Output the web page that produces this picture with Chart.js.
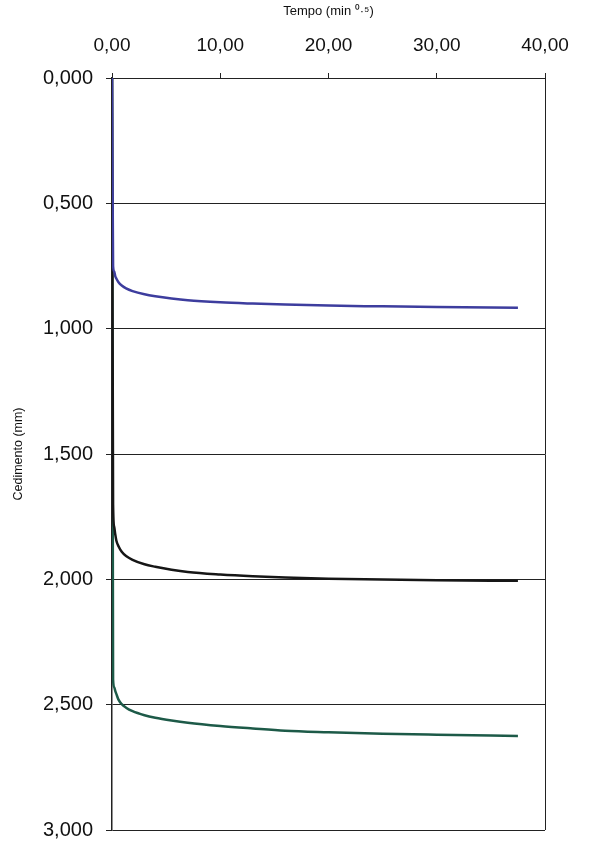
<!DOCTYPE html>
<html>
<head>
<meta charset="utf-8">
<script src="https://cdn.jsdelivr.net/npm/chart.js@4"></script>
<style>
  html, body { margin: 0; padding: 0; background: #fff; }
  #wrap { width: 593px; height: 847px; }
</style>
</head>
<body>
<div id="wrap"><canvas id="chart" width="593" height="847"></canvas></div>
<script>
// sqrt of time (min^0.5), shared by the three curves
const tempo = [0, 0.1, 0.2, 0.3, 0.4, 0.6, 0.9, 1.3, 1.9, 3.0, 4.0, 5.5, 7.0, 10.0, 13.0, 16.0, 20.0, 25.0, 30.0, 37.5];

// settlement (mm) for each load step
const cedBlu = [0, 0.750, 0.772, 0.790, 0.800, 0.815, 0.828, 0.839, 0.850, 0.863, 0.871, 0.880, 0.887, 0.895, 0.900, 0.904, 0.908, 0.911, 0.914, 0.917];
const cedNero = [0, 1.700, 1.790, 1.820, 1.845, 1.868, 1.890, 1.907, 1.922, 1.940, 1.950, 1.962, 1.971, 1.981, 1.988, 1.993, 1.998, 2.001, 2.004, 2.006];
const cedVerde = [0, 2.400, 2.430, 2.445, 2.457, 2.480, 2.498, 2.512, 2.526, 2.542, 2.552, 2.563, 2.572, 2.585, 2.595, 2.604, 2.610, 2.616, 2.620, 2.625];

const xTicks = [0, 10, 20, 30, 40];
const yTicks = [0, 0.5, 1, 1.5, 2, 2.5, 3];

const FONT = "'Liberation Sans', Arial, sans-serif";
const pts = (ys) => tempo.map((x, i) => ({ x: x, y: ys[i] }));
const comma = (v, d) => v.toFixed(d).replace('.', ',');

const serie = (ys, color) => ({
  data: pts(ys),
  borderColor: color,
  backgroundColor: color,
  borderWidth: 2.5,
  pointRadius: 0,
  cubicInterpolationMode: 'monotone',
  fill: false
});

new Chart(document.getElementById('chart'), {
  type: 'line',
  data: {
    // first dataset ends up drawn on top
    datasets: [
      serie(cedBlu, '#3d3d9e'),
      serie(cedNero, '#161616'),
      serie(cedVerde, '#1d5a48')
    ]
  },
  options: {
    responsive: false,
    animation: false,
    layout: { padding: { left: 0, top: 0, right: 48, bottom: 17 } },
    plugins: { legend: { display: false }, tooltip: { enabled: false } },
    scales: {
      x: {
        type: 'linear',
        position: 'top',
        min: 0,
        max: 40,
        afterBuildTicks: (s) => { s.ticks = xTicks.map(v => ({ value: v })); },
        afterFit: (s) => { s.height = 78; },
        ticks: {
          padding: 16,
          color: '#111',
          font: { family: FONT, size: 19 },
          callback: (v) => comma(v, 2)
        },
        grid: {
          drawOnChartArea: true,
          color: (c) => (c.tick && c.tick.value === 40 ? '#222' : 'rgba(0,0,0,0)'),
          tickColor: '#222',
          tickLength: 5,
          lineWidth: 1
        },
        border: { display: true, color: '#222', width: 1 },
        title: {
          display: true,
          text: 'Tempo (min \u2070\u00b7\u2075)',
          color: '#111',
          font: { family: FONT, size: 13 },
          padding: { top: 4, bottom: 0 }
        }
      },
      y: {
        type: 'linear',
        reverse: true,
        min: 0,
        max: 3,
        afterBuildTicks: (s) => { s.ticks = yTicks.map(v => ({ value: v })); },
        afterFit: (s) => { s.width = 112; s.paddingTop = 0; s.paddingBottom = 0; },
        ticks: {
          padding: 13,
          color: '#111',
          font: { family: FONT, size: 20 },
          callback: (v) => comma(v, 3)
        },
        grid: {
          color: '#222',
          tickColor: '#222',
          tickLength: 6,
          lineWidth: 1
        },
        border: { display: true, color: '#222', width: 1.5 },
        title: {
          display: true,
          text: 'Cedimento (mm)',
          color: '#111',
          font: { family: FONT, size: 12.5 },
          padding: { top: 11, bottom: 0 }
        }
      }
    }
  }
});
</script>
</body>
</html>
